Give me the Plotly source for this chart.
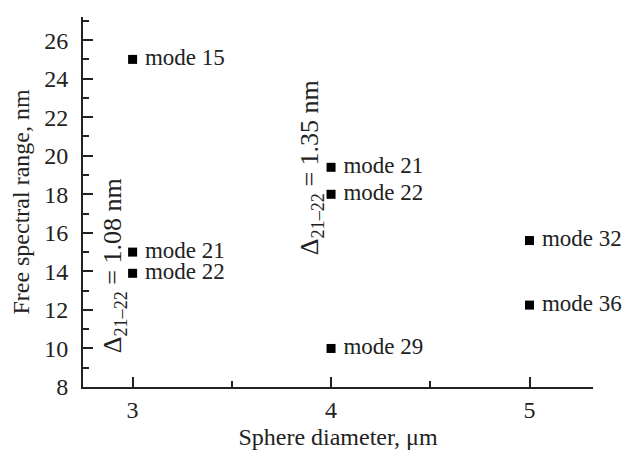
import plotly.graph_objects as go

diameter = [3, 3, 3, 4, 4, 4, 5, 5]
fsr = [25.0, 15.0, 13.9, 19.4, 18.0, 10.0, 15.6, 12.25]
mode_labels = ["mode 15", "mode 21", "mode 22", "mode 21", "mode 22", "mode 29", "mode 32", "mode 36"]

delta_x = [2.905, 3.9]
delta_y = [14.3, 19.36]
delta_text = ["Δ<sub>21–22</sub> = 1.08 nm", "Δ<sub>21–22</sub> = 1.35 nm"]

FONT = "Liberation Serif"
AX = "#222222"
FS = 24

fig = go.Figure()
fig.add_trace(go.Scatter(
    x=diameter, y=fsr, mode="markers+text",
    marker=dict(symbol="square", size=9, color="black"),
    text=[" " + t for t in mode_labels], textposition="middle right",
    textfont=dict(family=FONT, size=23, color="#222222"),
    cliponaxis=False, showlegend=False, hoverinfo="skip",
))

for x, y, t in zip(delta_x, delta_y, delta_text):
    fig.add_annotation(x=x, y=y, text=t, textangle=-90, showarrow=False,
                       font=dict(family=FONT, size=26, color="#222222"))

fig.update_layout(
    width=633, height=450,
    margin=dict(l=83, r=40, t=17, b=63),
    paper_bgcolor="white", plot_bgcolor="white",
    font=dict(family=FONT, size=FS, color="#222222"),
)
fig.update_xaxes(
    range=[2.75, 5.32], tickvals=[3, 4, 5], ticks="inside", ticklen=10, tickwidth=1.5,
    tickcolor=AX, showline=True, linecolor=AX, linewidth=2, showgrid=False, zeroline=False,
    minor=dict(tickvals=[3.5, 4.5], ticks="inside", ticklen=6, tickwidth=1.5, tickcolor=AX),
    title=dict(text="Sphere diameter, μm", font=dict(family=FONT, size=FS), standoff=6),
    tickfont=dict(family=FONT, size=FS), automargin=False,
)
fig.update_yaxes(
    range=[8, 27.2], tickvals=list(range(8, 27, 2)), ticks="inside", ticklen=10, tickwidth=1.5,
    tickcolor=AX, showline=True, linecolor=AX, linewidth=2, showgrid=False, zeroline=False,
    minor=dict(tickvals=list(range(9, 28, 2)), ticks="inside", ticklen=6, tickwidth=1.5, tickcolor=AX),
    title=dict(text="Free spectral range, nm", font=dict(family=FONT, size=FS), standoff=8),
    tickfont=dict(family=FONT, size=FS), ticklabelstandoff=8, automargin=False,
)

fig.write_html("out.html", config={"displayModeBar": False},
               post_script="document.body.style.margin='0px';document.body.style.overflow='hidden';")
